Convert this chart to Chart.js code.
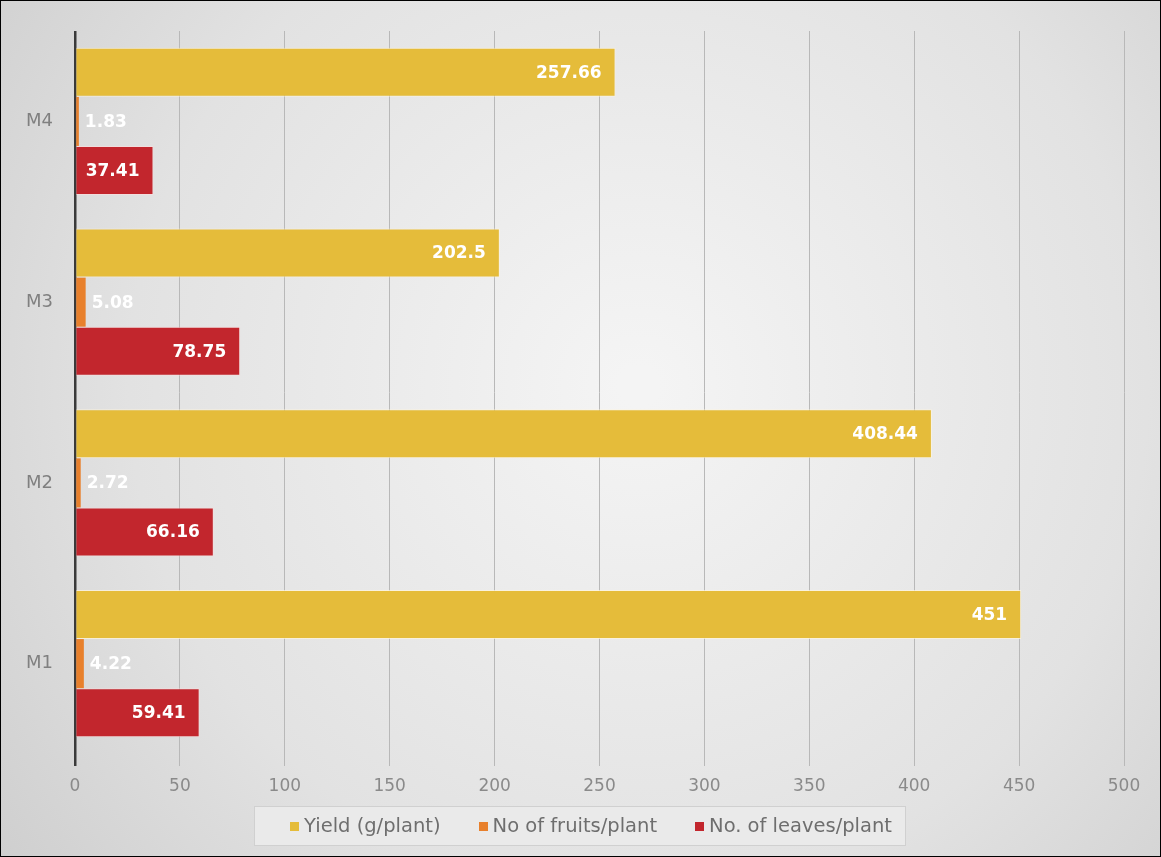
<!DOCTYPE html>
<html>
<head>
<meta charset="utf-8">
<script src="https://cdn.jsdelivr.net/npm/chart.js@4.4.1/dist/chart.umd.min.js"></script>
<style>
  html, body { margin: 0; padding: 0; background: #fff; }
  #wrap { width: 1161px; height: 857px; }
</style>
</head>
<body>
<div id="wrap"><canvas id="chart-area" width="1161" height="857"></canvas></div>
<script>
// categories listed top to bottom as drawn
var categories = ['M4', 'M3', 'M2', 'M1'];
var yieldValues = [257.66, 202.5, 408.44, 451];
var fruitValues = [1.83, 5.08, 2.72, 4.22];
var leafValues = [37.41, 78.75, 66.16, 59.41];
var seriesNames = ['Yield (g/plant)', 'No of fruits/plant', 'No. of leaves/plant'];
var xTicks = [0, 50, 100, 150, 200, 250, 300, 350, 400, 450, 500];

var FONT = '"DejaVu Sans", sans-serif';

var backdrop = {
  id: 'backdrop',
  beforeDraw: function(chart) {
    var c = chart.ctx, w = chart.width, h = chart.height;
    c.save();
    var g = c.createRadialGradient(w * 0.55, h * 0.45, 20, w * 0.55, h * 0.45, w * 0.72);
    g.addColorStop(0, '#f4f4f4');
    g.addColorStop(0.6, '#e2e2e2');
    g.addColorStop(1, '#cccccc');
    c.fillStyle = g;
    c.fillRect(0, 0, w, h);
    c.restore();
  },
  afterDraw: function(chart) {
    var c = chart.ctx;
    c.save();
    c.strokeStyle = '#000';
    c.lineWidth = 1;
    c.strokeRect(0.5, 0.5, chart.width - 1, chart.height - 1);
    c.restore();
  }
};

// legend panel under the axis, built from the datasets
var legendPanel = {
  id: 'legendPanel',
  afterDraw: function(chart) {
    var c = chart.ctx;
    var ds = chart.data.datasets;
    var box = 9, gap = 5, space = 38;
    c.save();
    c.font = '19.5px ' + FONT;
    var widths = ds.map(function(d) { return c.measureText(d.label).width; });
    var total = 0;
    widths.forEach(function(tw, i) { total += box + gap + tw + (i ? space : 0); });
    var cx = 591, cy = 826;
    var x = cx - total / 2;
    var x0 = Math.round(x - 36), x1 = Math.round(x + total + 14);
    c.fillStyle = 'rgba(234,234,234,0.95)';
    c.fillRect(x0, cy - 20, x1 - x0, 40);
    c.strokeStyle = '#d0d0d0';
    c.lineWidth = 1;
    c.strokeRect(x0 + 0.5, cy - 19.5, x1 - x0 - 1, 39);
    c.textBaseline = 'middle';
    c.textAlign = 'left';
    ds.forEach(function(d, i) {
      c.fillStyle = d.backgroundColor;
      c.fillRect(Math.round(x), cy - 4, box, box);
      c.fillStyle = '#6e6e6e';
      c.fillText(d.label, x + box + gap, cy + 1);
      x += box + gap + widths[i] + space;
    });
    c.restore();
  }
};

var valueLabels = {
  id: 'valueLabels',
  afterDatasetsDraw: function(chart) {
    var c = chart.ctx;
    c.save();
    c.fillStyle = '#ffffff';
    c.textBaseline = 'middle';
    c.font = 'bold 17px ' + FONT;
    chart.data.datasets.forEach(function(ds, di) {
      var meta = chart.getDatasetMeta(di);
      meta.data.forEach(function(bar, i) {
        var txt = String(ds.data[i]);
        if (di === 1) {
          c.textAlign = 'left';
          c.fillText(txt, bar.x + 6, bar.y + 1);
        } else {
          c.textAlign = 'right';
          c.fillText(txt, bar.x - 14, bar.y + 1);
        }
      });
    });
    c.restore();
  }
};

var config = {
  type: 'bar',
  data: {
    labels: categories,
    datasets: [{
      label: seriesNames[0],
      data: yieldValues,
      backgroundColor: '#e5bc3a',
      borderColor: 'rgba(255,245,220,0.7)',
      borderWidth: 1
    }, {
      label: seriesNames[1],
      data: fruitValues,
      backgroundColor: '#e8802c',
      borderWidth: 0
    }, {
      label: seriesNames[2],
      data: leafValues,
      backgroundColor: '#c2262d',
      borderColor: 'rgba(255,220,220,0.6)',
      borderWidth: 1
    }]
  },
  options: {
    indexAxis: 'y',
    responsive: false,
    animation: false,
    layout: { padding: { top: 31, right: 37, bottom: 0, left: 0 } },
    datasets: { bar: { categoryPercentage: 0.815, barPercentage: 1.0 } },
    scales: {
      x: {
        min: 0,
        max: 500,
        afterBuildTicks: function(scale) {
          scale.ticks = xTicks.map(function(v) { return { value: v }; });
        },
        afterFit: function(scale) { scale.height = 103; },
        grid: {
          color: function(ctx) { return ctx.tick && ctx.tick.value === 0 ? '#3a3a3a' : '#b8b8b8'; },
          lineWidth: function(ctx) { return ctx.tick && ctx.tick.value === 0 ? 2.5 : 1; },
          tickLength: 12,
          drawTicks: true
        },
        border: { display: false },
        ticks: {
          color: '#8a8a8a',
          font: { family: FONT, size: 17 },
          padding: 10,
          maxRotation: 0,
          autoSkip: false
        }
      },
      y: {
        afterFit: function(scale) { scale.width = 75; },
        grid: { display: false },
        border: { display: false },
        ticks: {
          color: '#808080',
          font: { family: FONT, size: 18 },
          padding: 14
        }
      }
    },
    plugins: {
      legend: { display: false },
      tooltip: { enabled: false }
    }
  },
  plugins: [backdrop, valueLabels, legendPanel]
};

window.onload = function() {
  var ctx = document.getElementById('chart-area').getContext('2d');
  window.myBar = new Chart(ctx, config);
};
</script>
</body>
</html>
